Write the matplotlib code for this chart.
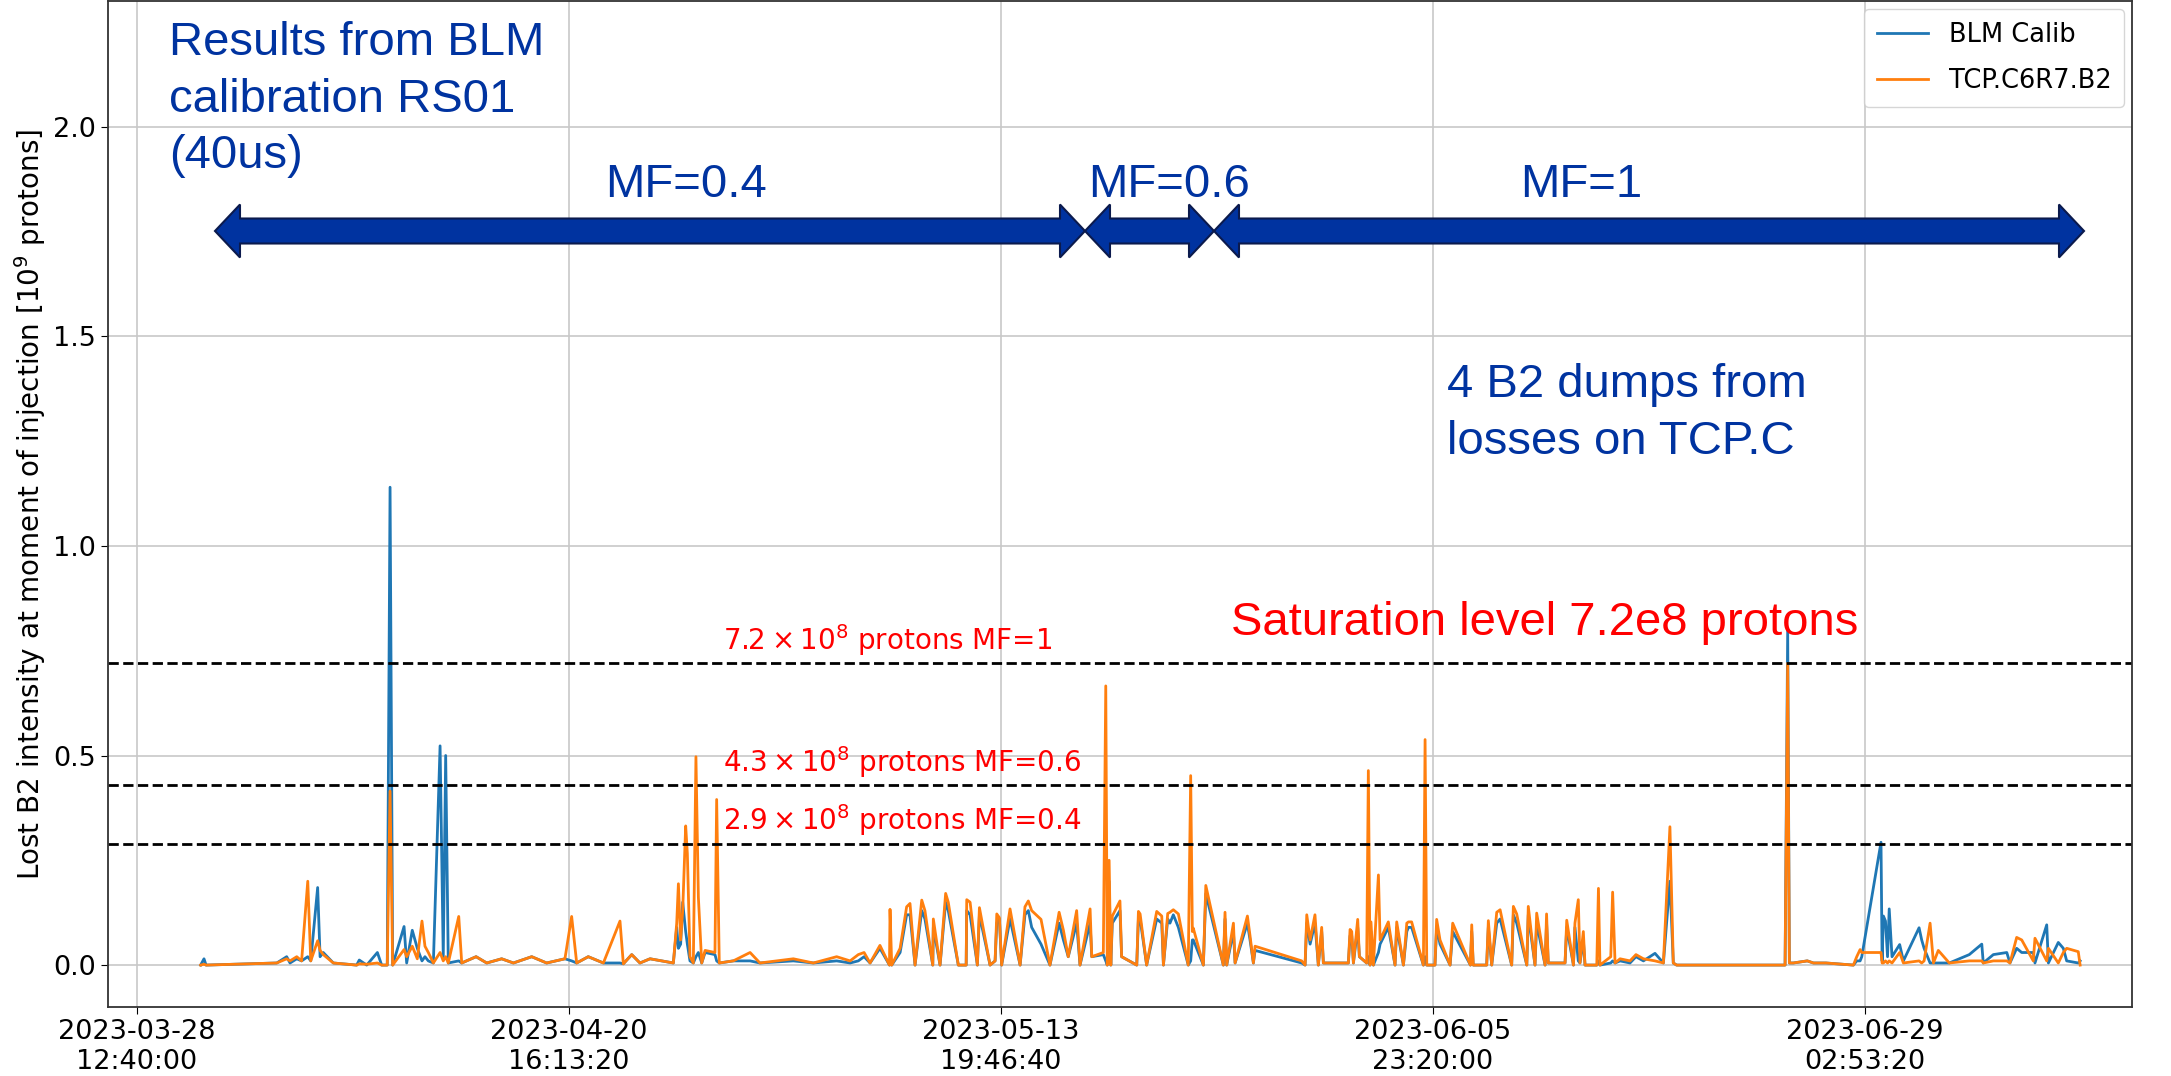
import numpy as np
import matplotlib
matplotlib.use("Agg")
import matplotlib.pyplot as plt
import matplotlib.patches as mpatches
from matplotlib.ticker import MultipleLocator, FuncFormatter
from datetime import datetime, timezone, timedelta

# time of each injection, days after 2023-03-28 12:40 (local, CEST)
days = [3.41, 3.59, 3.70, 7.49, 8.02, 8.20, 8.56, 8.82, 9.15, 9.31,
        9.68, 9.81, 9.98, 10.52, 11.77, 11.91, 12.31, 12.88, 13.11, 13.41,
        13.56, 13.70, 14.31, 14.45, 14.75, 15.02, 15.27, 15.43, 15.61, 15.88,
        16.24, 16.41, 16.54, 16.68, 17.24, 17.40, 18.17, 18.74, 19.54, 20.17,
        21.15, 21.95, 22.93, 23.29, 23.56, 24.18, 24.99, 25.88, 26.06, 26.51,
        26.95, 27.49, 28.74, 28.92, 29.01, 29.13, 29.24, 29.40, 29.49, 29.63,
        29.81, 29.95, 30.08, 30.26, 30.44, 30.97, 31.06, 31.20, 31.95, 32.85,
        33.38, 35.17, 36.24, 37.49, 38.21, 38.65, 38.96, 39.28, 39.81, 40.32,
        40.35, 40.44, 40.89, 41.24, 41.42, 41.69, 42.05, 42.22, 42.64, 42.67,
        43.03, 43.33, 43.47, 44.01, 44.43, 44.46, 44.64, 45.03, 45.14, 45.71,
        45.98, 46.07, 46.21, 46.33, 46.78, 47.32, 47.58, 47.76, 47.94, 48.44,
        48.92, 49.41, 49.64, 49.90, 50.35, 50.53, 51.07, 51.16, 51.78, 51.91,
        51.99, 52.09, 52.18, 52.26, 52.67, 52.76, 53.57, 53.66, 53.75, 54.10,
        54.64, 54.91, 55.00, 55.23, 55.35, 55.53, 55.80, 56.33, 56.46, 56.55,
        56.60, 57.14, 57.27, 58.21, 58.30, 58.39, 58.75, 58.84, 59.50, 59.64,
        59.82, 59.91, 62.41, 62.59, 62.68, 62.86, 63.12, 63.30, 63.48, 63.57,
        64.91, 65.00, 65.09, 65.18, 65.41, 65.50, 65.89, 65.98, 66.07, 66.12,
        66.25, 66.52, 66.61, 67.05, 67.41, 67.50, 67.86, 68.04, 68.13, 68.30,
        68.93, 69.02, 69.11, 69.55, 69.64, 69.82, 70.36, 70.50, 71.45, 71.52,
        71.60, 72.32, 72.41, 72.59, 72.86, 73.04, 73.66, 73.75, 73.93, 74.47,
        74.55, 74.91, 75.00, 75.45, 75.53, 75.62, 76.52, 76.61, 76.97, 77.05,
        77.23, 77.32, 77.50, 77.59, 78.22, 78.31, 78.39, 78.97, 79.07, 79.20,
        79.47, 80.00, 80.32, 80.72, 81.34, 81.79, 82.14, 82.32, 82.50, 88.31,
        88.45, 88.54, 88.75, 89.50, 89.83, 90.50, 91.97, 92.15, 92.33, 92.42,
        93.45, 93.51, 93.58, 93.69, 93.80, 93.89, 94.04, 94.45, 94.65, 95.49,
        95.63, 95.76, 96.08, 96.26, 96.52, 97.11, 98.18, 98.85, 98.93, 99.47,
        100.19, 100.36, 100.72, 100.99, 101.61, 101.70, 102.33, 102.42, 102.95, 103.22,
        103.40, 104.02, 104.12]

blm_calib = [0, 0.015, 0, 0.005, 0.02, 0.005, 0.015, 0.01, 0.02, 0.01,
             0.185, 0.02, 0.03, 0.005, 0, 0.012, 0, 0.03, 0, 0,
             1.14, 0, 0.092, 0.005, 0.083, 0.04, 0.01, 0.02, 0.01, 0.005,
             0.523, 0.02, 0.50, 0.005, 0.01, 0.005, 0.02, 0.005, 0.015, 0.005,
             0.02, 0.005, 0.015, 0.01, 0.005, 0.02, 0.005, 0.005, 0.003, 0.025,
             0.005, 0.015, 0.005, 0.09, 0.04, 0.05, 0.15, 0.08, 0.05, 0.01,
             0.005, 0.02, 0.03, 0.005, 0.03, 0.025, 0.01, 0.005, 0.01, 0.01,
             0.005, 0.01, 0.005, 0.01, 0.005, 0.01, 0.02, 0.005, 0.04, 0,
             0.005, 0, 0.03, 0.12, 0.12, 0, 0.13, 0.11, 0, 0.09,
             0, 0.15, 0.13, 0, 0, 0.13, 0.12, 0, 0.12, 0,
             0.01, 0.10, 0.11, 0, 0.11, 0, 0.12, 0.13, 0.09, 0.05,
             0, 0.10, 0.06, 0.02, 0.10, 0, 0.10, 0.02, 0.025, 0.01,
             0, 0.20, 0, 0.10, 0.13, 0.02, 0, 0.11, 0.11, 0,
             0.11, 0.10, 0, 0.11, 0.10, 0.12, 0.09, 0, 0.01, 0.06,
             0.06, 0, 0.17, 0, 0.11, 0, 0.08, 0.005, 0.10, 0.06,
             0.005, 0.035, 0.005, 0, 0.10, 0.05, 0.10, 0, 0.08, 0.005,
             0.005, 0.07, 0.07, 0.005, 0.09, 0.02, 0.005, 0.02, 0, 0.08,
             0, 0.03, 0.05, 0.09, 0, 0.09, 0, 0.08, 0.09, 0.09,
             0, 0.02, 0, 0, 0.09, 0.05, 0, 0.08, 0, 0.08,
             0, 0, 0.09, 0, 0.10, 0.11, 0, 0.12, 0.10, 0,
             0.12, 0, 0.10, 0, 0.10, 0.005, 0.005, 0.09, 0, 0.09,
             0.01, 0.005, 0.06, 0, 0, 0.01, 0, 0.005, 0.01, 0.005,
             0.01, 0.005, 0.02, 0.01, 0.028, 0.005, 0.20, 0.005, 0, 0,
             0.798, 0.005, 0.005, 0.01, 0.005, 0.005, 0, 0.01, 0.01, 0.02,
             0.293, 0.01, 0.117, 0.105, 0.02, 0.134, 0.02, 0.049, 0.01, 0.089,
             0.06, 0.04, 0.005, 0.005, 0.005, 0.005, 0.025, 0.05, 0.005, 0.025,
             0.03, 0.005, 0.04, 0.03, 0.03, 0.005, 0.096, 0.005, 0.054, 0.04,
             0.01, 0.005, 0.01]

tcp_loss = [0, 0.002, 0, 0.005, 0.015, 0.01, 0.02, 0.01, 0.20, 0.01,
            0.058, 0.035, 0.025, 0.005, 0, 0.003, 0.002, 0.005, 0, 0,
            0.415, 0, 0.037, 0.02, 0.045, 0.015, 0.105, 0.045, 0.03, 0.005,
            0.03, 0.01, 0.02, 0.005, 0.116, 0.005, 0.02, 0.005, 0.015, 0.005,
            0.02, 0.005, 0.015, 0.116, 0.005, 0.02, 0.005, 0.105, 0.003, 0.025,
            0.005, 0.015, 0.005, 0.10, 0.194, 0.06, 0.13, 0.332, 0.266, 0.02,
            0.005, 0.497, 0.162, 0.005, 0.035, 0.03, 0.395, 0.005, 0.01, 0.03,
            0.005, 0.015, 0.005, 0.02, 0.01, 0.025, 0.03, 0.005, 0.047, 0,
            0.133, 0, 0.04, 0.139, 0.147, 0, 0.155, 0.13, 0, 0.11,
            0, 0.171, 0.15, 0, 0, 0.156, 0.15, 0, 0.137, 0,
            0.01, 0.122, 0.113, 0, 0.134, 0, 0.139, 0.153, 0.13, 0.109,
            0, 0.126, 0.083, 0.02, 0.13, 0, 0.134, 0.02, 0.03, 0.666,
            0, 0.25, 0, 0.117, 0.153, 0.02, 0, 0.128, 0.122, 0,
            0.128, 0.117, 0, 0.123, 0.126, 0.132, 0.122, 0, 0.452, 0.08,
            0.088, 0, 0.19, 0, 0.126, 0, 0.10, 0.005, 0.117, 0.07,
            0.005, 0.045, 0.01, 0, 0.12, 0.06, 0.12, 0, 0.09, 0.005,
            0.005, 0.085, 0.08, 0.005, 0.109, 0.02, 0.005, 0.464, 0, 0.103,
            0, 0.215, 0.06, 0.103, 0, 0.103, 0, 0.10, 0.103, 0.103,
            0, 0.538, 0, 0, 0.109, 0.06, 0, 0.10, 0, 0.096,
            0, 0, 0.106, 0, 0.126, 0.132, 0, 0.14, 0.122, 0,
            0.14, 0, 0.124, 0, 0.122, 0.005, 0.005, 0.107, 0, 0.10,
            0.156, 0.005, 0.08, 0, 0, 0.183, 0, 0.02, 0.174, 0.005,
            0.015, 0.01, 0.025, 0.015, 0.01, 0.005, 0.33, 0.005, 0, 0,
            0.72, 0.005, 0.005, 0.01, 0.005, 0.005, 0, 0.02, 0.037, 0.03,
            0.03, 0.005, 0.005, 0.01, 0.005, 0.01, 0.005, 0.03, 0.005, 0.01,
            0.005, 0.01, 0.10, 0.005, 0.035, 0.005, 0.01, 0.01, 0.005, 0.01,
            0.01, 0.005, 0.066, 0.06, 0.01, 0.064, 0.01, 0.04, 0.005, 0.03,
            0.04, 0.032, 0]

levels = [0.72, 0.43, 0.29]
level_labels = [r"$7.2 \times 10^8$ protons MF=1",
                r"$4.3 \times 10^8$ protons MF=0.6",
                r"$2.9 \times 10^8$ protons MF=0.4"]
label_day = 31.4

T0 = 1.68e9                      # 2023-03-28 12:40:00 CEST
CEST = timezone(timedelta(hours=2))

W, H = 2171, 1076
fig = plt.figure(figsize=(W / 100, H / 100), dpi=100)
ax = fig.add_axes([108 / W, 69 / H, (2132 - 108) / W, 1006 / H])

t = T0 + np.array(days) * 86400
ax.plot(t, blm_calib, label="BLM Calib", lw=2.0)
ax.plot(t, tcp_loss, label="TCP.C6R7.B2", lw=2.0)

for lvl, lab in zip(levels, level_labels):
    ax.axhline(lvl, color="k", ls="--", lw=2)
    ax.text(T0 + label_day * 86400, lvl + 0.012, lab, color="red",
            fontsize=20, va="bottom")

ax.set_xlim(T0 - 134259, T0 + 9236111)
ax.set_ylim(-0.1, 2.3)
ax.xaxis.set_major_locator(MultipleLocator(2e6))
ax.xaxis.set_major_formatter(FuncFormatter(
    lambda v, pos: datetime.fromtimestamp(v, CEST).strftime("%Y-%m-%d\n%H:%M:%S")))
ax.tick_params(labelsize=19.5, length=5)
ax.grid(True, color="#c8c8c8", lw=1.2)
ax.set_ylabel("Lost B2 intensity at moment of injection [$10^9$ protons]",
              fontsize=20)
ax.legend(loc="upper right", fontsize=18.5, labelspacing=0.8,
          borderaxespad=0.3, borderpad=0.5)
for sp in ax.spines.values():
    sp.set_linewidth(1.3)
    sp.set_color("#333333")

# slide overlay: arrows and comments, positioned in figure pixels
BLUE = "#0033a0"


def fig_xy(x, y):
    return (x / W, 1 - y / H)


def double_arrow(x0, x1, yc, hl=25, hh=26.5, sh=12.5):
    pts = [(x0, yc), (x0 + hl, yc - hh), (x0 + hl, yc - sh), (x1 - hl, yc - sh),
           (x1 - hl, yc - hh), (x1, yc), (x1 - hl, yc + hh), (x1 - hl, yc + sh),
           (x0 + hl, yc + sh), (x0 + hl, yc + hh)]
    poly = mpatches.Polygon([fig_xy(*p) for p in pts], closed=True,
                            transform=fig.transFigure, facecolor=BLUE,
                            edgecolor="#0b1a4d", lw=1.5, zorder=5)
    fig.patches.append(poly)


double_arrow(215, 1085, 231)
double_arrow(1085, 1214, 231)
double_arrow(1214, 2084, 231)

overlay = [("Results from BLM", 169, 55, BLUE),
           ("calibration RS01", 169, 112, BLUE),
           ("(40us)", 169, 168, BLUE),
           ("MF=0.4", 605, 197, BLUE),
           ("MF=0.6", 1088, 197, BLUE),
           ("MF=1", 1520, 197, BLUE),
           ("4 B2 dumps from", 1447, 397, BLUE),
           ("losses on TCP.C", 1447, 454, BLUE),
           ("Saturation level 7.2e8 protons", 1231, 635, "red")]
for s, x, y, c in overlay:
    fx, fy = fig_xy(x, y)
    fig.text(fx, fy, s, color=c, fontsize=34, family="Liberation Sans",
             va="baseline", ha="left", zorder=6)

fig.savefig("out.png", dpi=100)
